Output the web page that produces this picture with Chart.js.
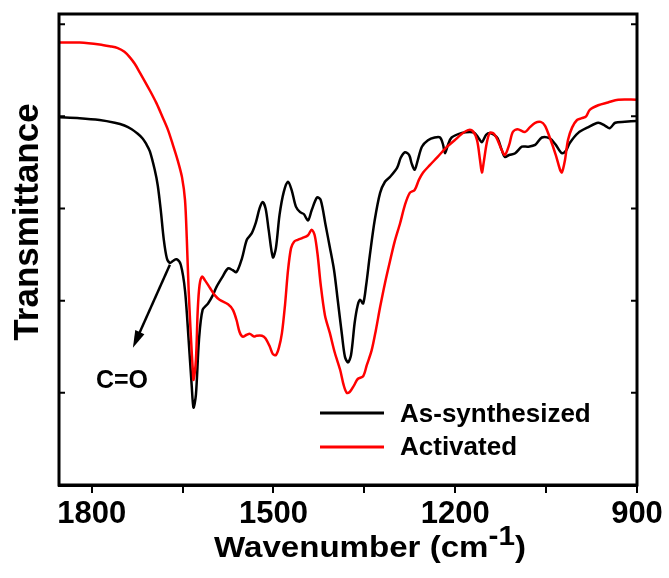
<!DOCTYPE html>
<html lang="en">
<head>
    <meta charset="UTF-8">
    <title>FTIR spectra</title>
    <script src="https://cdn.jsdelivr.net/npm/chart.js@4.4.1/dist/chart.umd.min.js"></script>
    <style>
        body { margin: 0; background: #fff; }
        canvas { display: block; }
    </style>
</head>
<body>
    <canvas id="ftir" width="669" height="578"></canvas>

    <script>
        // As-synthesized spectrum (wavenumber, transmittance in tick units)
        const asSynWn = [1854, 1820, 1787, 1762, 1746, 1734, 1724, 1716, 1710, 1704, 1696, 1691, 1686, 1681, 1676, 1671, 1666, 1660, 1653, 1646, 1640, 1635, 1632, 1628, 1623, 1617, 1608, 1600, 1594, 1585, 1575, 1567, 1561, 1552, 1544, 1536, 1529, 1523, 1518, 1513, 1508, 1501, 1496, 1490, 1483, 1476, 1470, 1463, 1456, 1450, 1443, 1437, 1428, 1422, 1414, 1407, 1400, 1394, 1387, 1382, 1377, 1372, 1366, 1361, 1357, 1352, 1347, 1341, 1333, 1324, 1316, 1308, 1296, 1290, 1283, 1276, 1272, 1267, 1262, 1255, 1245, 1234, 1225, 1220, 1217, 1212, 1206, 1189, 1176, 1168, 1161, 1156, 1149, 1143, 1136, 1130, 1123, 1118, 1111, 1101, 1090, 1080, 1068, 1057, 1044, 1034, 1024, 1017, 1011, 997, 981, 964, 953, 945, 936, 920, 900];
        const asSynT = [3.99, 3.98, 3.96, 3.93, 3.90, 3.86, 3.81, 3.76, 3.70, 3.62, 3.42, 3.25, 2.98, 2.66, 2.46, 2.41, 2.43, 2.45, 2.39, 2.11, 1.57, 1.08, 0.84, 0.98, 1.57, 1.90, 1.97, 2.06, 2.15, 2.25, 2.35, 2.33, 2.31, 2.46, 2.66, 2.73, 2.85, 3.00, 3.07, 3.00, 2.77, 2.47, 2.57, 2.93, 3.18, 3.29, 3.20, 3.02, 2.96, 2.94, 2.87, 2.98, 3.12, 3.09, 2.82, 2.58, 2.33, 2.01, 1.63, 1.39, 1.33, 1.41, 1.76, 1.95, 2.01, 1.97, 2.17, 2.49, 2.87, 3.17, 3.29, 3.34, 3.44, 3.55, 3.61, 3.58, 3.49, 3.42, 3.52, 3.67, 3.74, 3.77, 3.77, 3.69, 3.60, 3.69, 3.77, 3.82, 3.83, 3.82, 3.76, 3.72, 3.80, 3.82, 3.80, 3.76, 3.63, 3.56, 3.58, 3.60, 3.67, 3.67, 3.69, 3.77, 3.76, 3.69, 3.60, 3.63, 3.71, 3.82, 3.88, 3.93, 3.90, 3.87, 3.93, 3.94, 3.95];

        // Activated spectrum
        const activWn = [1854, 1820, 1787, 1770, 1757, 1746, 1737, 1729, 1721, 1704, 1693, 1683, 1674, 1666, 1658, 1651, 1646, 1643, 1640, 1636, 1633, 1632, 1628, 1625, 1622, 1618, 1613, 1605, 1597, 1589, 1575, 1567, 1561, 1556, 1551, 1544, 1539, 1532, 1528, 1519, 1513, 1506, 1501, 1496, 1491, 1486, 1481, 1476, 1471, 1466, 1460, 1452, 1443, 1437, 1432, 1427, 1422, 1415, 1407, 1399, 1390, 1384, 1379, 1374, 1367, 1361, 1352, 1346, 1338, 1331, 1324, 1316, 1308, 1300, 1291, 1283, 1275, 1267, 1260, 1253, 1242, 1229, 1215, 1201, 1189, 1179, 1171, 1164, 1159, 1156, 1153, 1148, 1143, 1136, 1130, 1123, 1118, 1111, 1105, 1097, 1085, 1077, 1068, 1059, 1052, 1044, 1034, 1027, 1024, 1019, 1014, 1007, 999, 991, 984, 978, 964, 948, 931, 900];
        const activT = [4.80, 4.80, 4.78, 4.76, 4.74, 4.70, 4.64, 4.57, 4.48, 4.28, 4.14, 3.99, 3.85, 3.69, 3.52, 3.34, 3.09, 2.66, 2.11, 1.57, 1.23, 1.14, 1.36, 1.90, 2.17, 2.26, 2.22, 2.14, 2.06, 2.01, 1.96, 1.90, 1.79, 1.66, 1.61, 1.63, 1.64, 1.61, 1.62, 1.62, 1.59, 1.50, 1.42, 1.41, 1.49, 1.65, 1.95, 2.33, 2.57, 2.64, 2.66, 2.68, 2.71, 2.77, 2.71, 2.49, 2.17, 1.84, 1.65, 1.44, 1.25, 1.08, 1.00, 1.01, 1.08, 1.15, 1.18, 1.30, 1.46, 1.68, 1.93, 2.19, 2.42, 2.64, 2.84, 3.04, 3.17, 3.20, 3.31, 3.39, 3.47, 3.56, 3.66, 3.74, 3.81, 3.85, 3.84, 3.74, 3.52, 3.39, 3.50, 3.71, 3.82, 3.81, 3.74, 3.63, 3.58, 3.69, 3.83, 3.86, 3.83, 3.88, 3.93, 3.94, 3.90, 3.77, 3.58, 3.42, 3.39, 3.52, 3.74, 3.88, 3.96, 3.98, 4.00, 4.07, 4.12, 4.15, 4.18, 4.18];

        const xTickValues = [1800, 1650, 1500, 1350, 1200, 1050, 900];
        const yTickValues = [1, 2, 3, 4, 5];

        const FONT = "'Liberation Sans', Arial, sans-serif";

        function toPoints(xs, ys) {
            return xs.map((x, i) => ({ x: x, y: ys[i] }));
        }

        // frame, inward y ticks, arrow, labels, legend, axis titles
        const decorations = {
            id: 'decorations',
            afterDraw(chart) {
                const c = chart.ctx;
                const a = chart.chartArea;
                const xs = chart.scales.x, ys = chart.scales.y;
                c.save();
                c.strokeStyle = '#000';
                c.fillStyle = '#000';

                c.lineWidth = 3;
                c.strokeRect(a.left, a.top, a.right - a.left, a.bottom - a.top);

                c.lineWidth = 2;
                yTickValues.forEach(v => {
                    const py = ys.getPixelForValue(v);
                    c.beginPath();
                    c.moveTo(a.left, py); c.lineTo(a.left + 6, py);
                    c.moveTo(a.right, py); c.lineTo(a.right - 6, py);
                    c.stroke();
                });

                // C=O arrow
                const x0 = xs.getPixelForValue(1671), y0 = ys.getPixelForValue(2.39);
                const x1 = xs.getPixelForValue(1732), y1 = ys.getPixelForValue(1.49);
                const ang = Math.atan2(y1 - y0, x1 - x0);
                c.lineWidth = 2.5;
                c.beginPath();
                c.moveTo(x0, y0);
                c.lineTo(x1 - 10 * Math.cos(ang), y1 - 10 * Math.sin(ang));
                c.stroke();
                c.beginPath();
                c.moveTo(x1, y1);
                c.lineTo(x1 - 17 * Math.cos(ang) + 5 * Math.sin(ang), y1 - 17 * Math.sin(ang) - 5 * Math.cos(ang));
                c.lineTo(x1 - 17 * Math.cos(ang) - 5 * Math.sin(ang), y1 - 17 * Math.sin(ang) + 5 * Math.cos(ang));
                c.closePath();
                c.fill();

                c.font = 'bold 25px ' + FONT;
                c.textAlign = 'center';
                c.textBaseline = 'alphabetic';
                c.fillText('C=O', xs.getPixelForValue(1750), ys.getPixelForValue(1.05));

                // legend
                const legendItems = [['As-synthesized', '#000000', 413, 422], ['Activated', '#ff0000', 447, 455]];
                c.textAlign = 'left';
                c.font = 'bold 26px ' + FONT;
                legendItems.forEach(([label, color, ly, by]) => {
                    c.strokeStyle = color;
                    c.lineWidth = 3;
                    c.beginPath();
                    c.moveTo(320, ly); c.lineTo(384, ly);
                    c.stroke();
                    c.fillStyle = '#000';
                    c.fillText(label, 400, by);
                });

                // x title with superscript, stretched a little like the original
                const main = 'Wavenumber (cm', sup = '-1', tail = ')';
                c.font = 'bold 30px ' + FONT;
                const wMain = c.measureText(main).width, wTail = c.measureText(tail).width;
                c.font = 'bold 27px ' + FONT;
                const wSup = c.measureText(sup).width;
                const total = wMain + wSup + wTail;
                const sx = 312 / total;
                c.save();
                c.translate(370 - 156, 557);
                c.scale(sx, 1);
                let tx = 0;
                c.font = 'bold 30px ' + FONT;
                c.fillText(main, tx, 0); tx += wMain;
                c.font = 'bold 27px ' + FONT;
                c.fillText(sup, tx, -12); tx += wSup;
                c.font = 'bold 30px ' + FONT;
                c.fillText(tail, tx, 0);
                c.restore();

                // y title
                c.translate(28, 222);
                c.rotate(-Math.PI / 2);
                c.textAlign = 'center';
                c.textBaseline = 'middle';
                c.font = 'bold 35px ' + FONT;
                c.fillText('Transmittance', 0, 0);
                c.restore();
            }
        };

        new Chart(document.getElementById('ftir'), {
            type: 'line',
            data: {
                datasets: [
                    {
                        label: 'Activated',
                        data: toPoints(activWn, activT),
                        borderColor: '#ff0000',
                        borderWidth: 2.5,
                        pointRadius: 0,
                        tension: 0.3
                    },
                    {
                        label: 'As-synthesized',
                        data: toPoints(asSynWn, asSynT),
                        borderColor: '#000000',
                        borderWidth: 2.5,
                        pointRadius: 0,
                        tension: 0.3
                    }
                ]
            },
            options: {
                responsive: false,
                animation: false,
                layout: { padding: { left: 59, top: 14, right: 32, bottom: 0 } },
                plugins: {
                    legend: { display: false },
                    tooltip: { enabled: false }
                },
                scales: {
                    x: {
                        type: 'linear',
                        reverse: true,
                        min: 900,
                        max: 1854,
                        afterBuildTicks: s => { s.ticks = xTickValues.map(v => ({ value: v })); },
                        afterFit: s => { s.height = 93; },
                        grid: { drawOnChartArea: false, color: '#000', lineWidth: 2, tickLength: 8 },
                        border: { color: '#000', width: 3 },
                        ticks: {
                            autoSkip: false,
                            maxRotation: 0,
                            padding: 3,
                            color: '#000',
                            font: { family: FONT, size: 31, weight: 'bold' },
                            callback: v => (v % 300 === 0 ? String(v) : '')
                        }
                    },
                    y: { display: false, min: 0, max: 5.11 }
                }
            },
            plugins: [decorations]
        });
    </script>
</body>
</html>
